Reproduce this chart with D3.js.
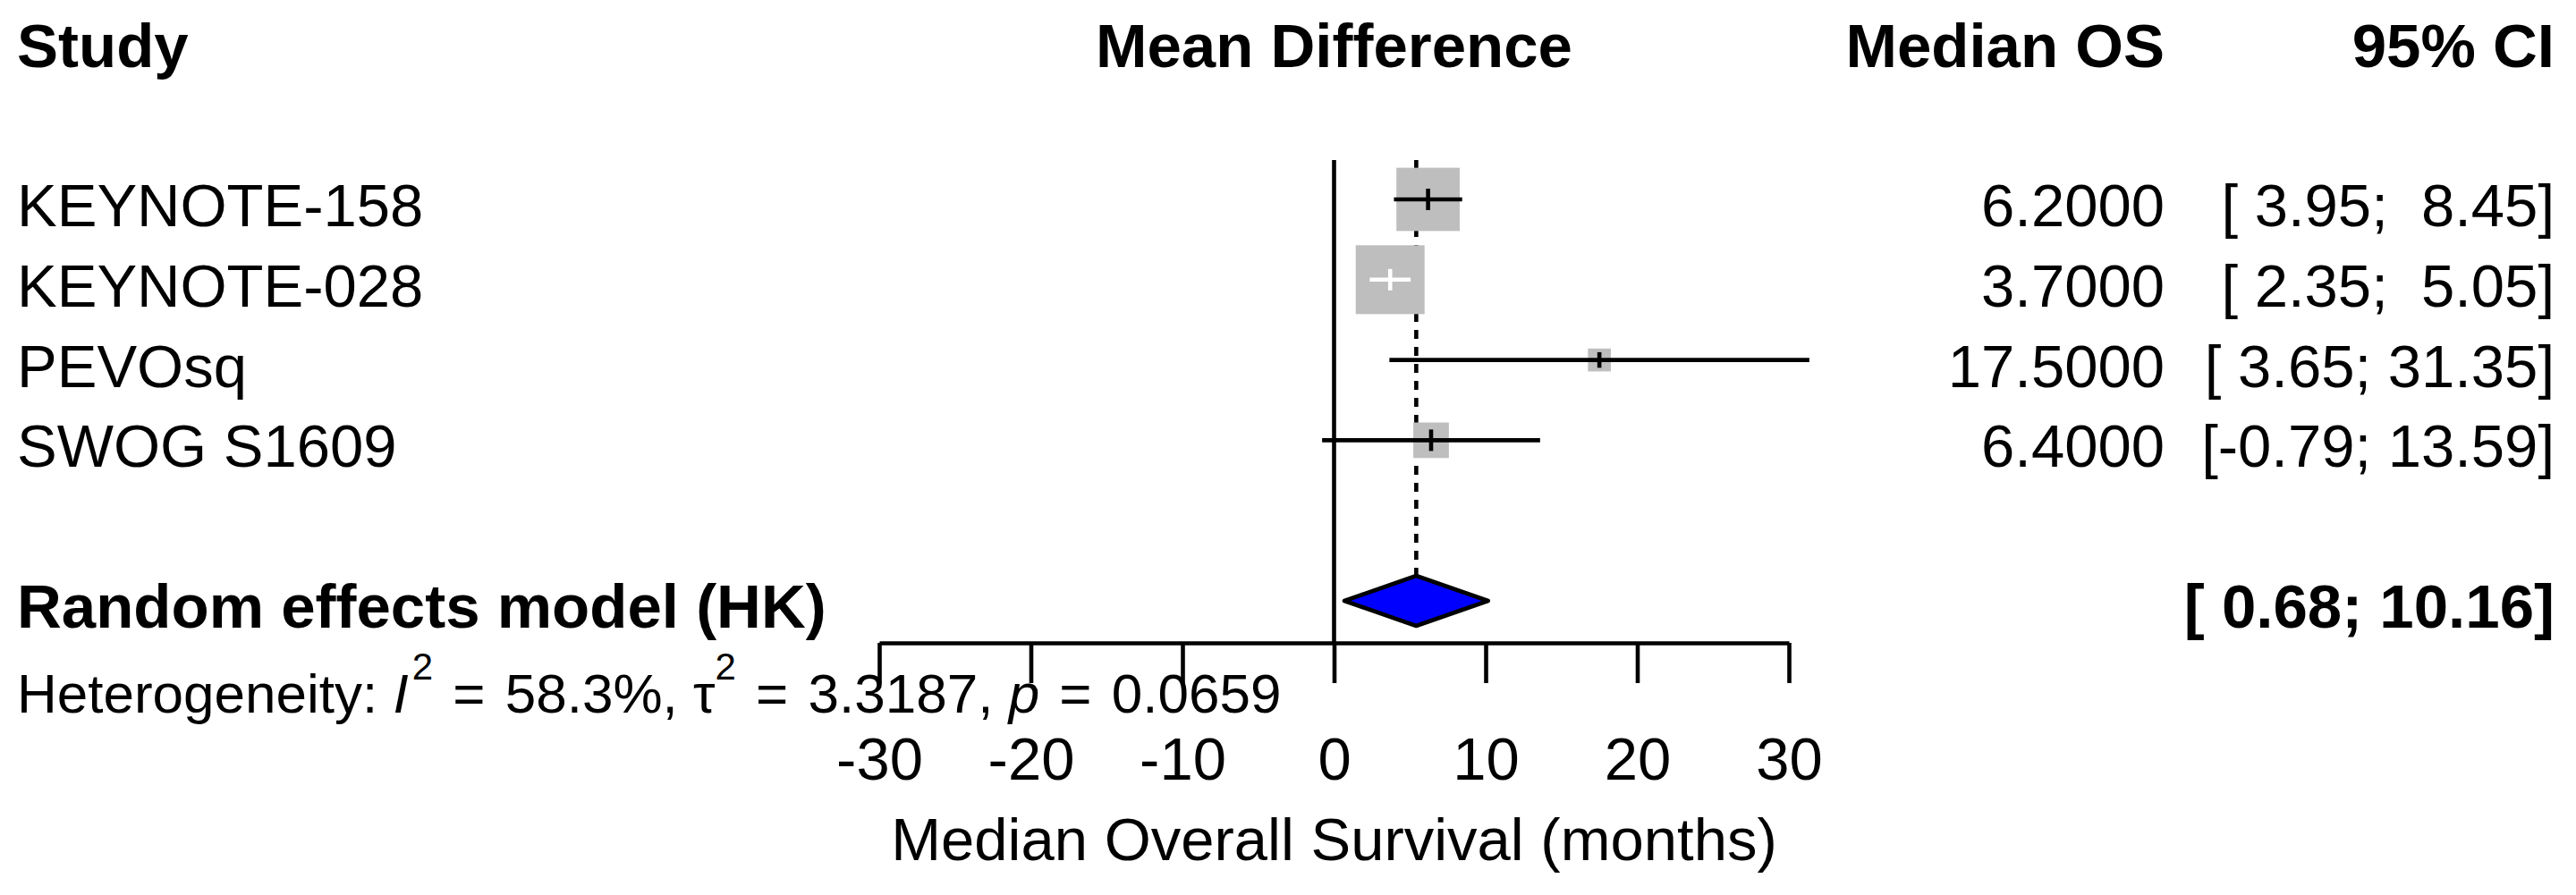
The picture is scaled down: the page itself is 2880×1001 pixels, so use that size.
<!DOCTYPE html>
<html>
<head>
<meta charset="utf-8">
<script src="https://cdn.jsdelivr.net/npm/d3@7"></script>
<style>
  html, body { margin: 0; padding: 0; background: #ffffff; }
  svg { display: block; }
  text { font-family: "Liberation Sans", Arial, Helvetica, sans-serif; fill: #000; white-space: pre; }
</style>
</head>
<body>
<svg id="chart" width="2880" height="1001"></svg>
<script>
// ---------------- data ----------------
const studies   = ["KEYNOTE-158", "KEYNOTE-028", "PEVOsq", "SWOG S1609"];
const medianOS  = [6.2, 3.7, 17.5, 6.4];
const ciLower   = [3.95, 2.35, 3.65, -0.79];
const ciUpper   = [8.45, 5.05, 31.35, 13.59];
const weights   = [38, 45, 5, 12];          // relative weights, estimated from square areas
const pooledLabel    = "Random effects model (HK)";
const pooledEstimate = 5.42;
const pooledLower    = 0.68;
const pooledUpper    = 10.16;
const xTicks    = [-30, -20, -10, 0, 10, 20, 30];
const headers   = ["Study", "Mean Difference", "Median OS", "95% CI"];
const axisTitle = "Median Overall Survival (months)";
const hetI2   = "58.3%";
const hetTau2 = "3.3187";
const hetP    = "0.0659";

// ---------------- layout ----------------
const svg = d3.select("#chart");
svg.append("rect").attr("width", 2880).attr("height", 1001).attr("fill", "#fff");

const x = d3.scaleLinear().domain([-30, 30]).range([983, 2000]);
const y = d3.scaleLinear().domain([0, 5]).range([223, 672]);   // row index -> centre
const boxSize = d3.scaleSqrt().domain([0, 45]).range([0, 77]);

const FS = 67, FSB = 69, FSH = 62;
const colStudy = 19, colEst = 2420, colCI = 2856;
const headerBase = 75, textOff = 30;
const axisY = 719, lineTop = 179;
const LW = 4.6;

const fmtCI = (lo, hi) => "[" + lo.toFixed(2).padStart(5, " ") + "; " + hi.toFixed(2).padStart(5, " ") + "]";

// headers
const hdr = svg.append("g").attr("font-weight", "bold").attr("font-size", FSB);
hdr.append("text").attr("x", colStudy).attr("y", headerBase).text(headers[0]);
hdr.append("text").attr("x", x(0)).attr("y", headerBase).attr("text-anchor", "middle").text(headers[1]);
hdr.append("text").attr("x", colEst).attr("y", headerBase).attr("text-anchor", "end").text(headers[2]);
hdr.append("text").attr("x", colCI).attr("y", headerBase).attr("text-anchor", "end").text(headers[3]);

// reference (zero) line
svg.append("line")
  .attr("x1", x(0)).attr("x2", x(0))
  .attr("y1", lineTop).attr("y2", axisY)
  .attr("stroke", "#000").attr("stroke-width", LW);

// pooled estimate dashed line
const diamondHalf = 28;
svg.append("line")
  .attr("x1", x(pooledEstimate)).attr("x2", x(pooledEstimate))
  .attr("y1", lineTop).attr("y2", y(5) - diamondHalf)
  .attr("stroke", "#000").attr("stroke-width", LW)
  .attr("stroke-dasharray", "10,9");

// study rows
const rows = studies.map((s, i) => ({
  name: s, est: medianOS[i], lo: ciLower[i], hi: ciUpper[i], w: weights[i], i
}));

const rowG = svg.append("g").selectAll("g").data(rows).join("g");

rowG.append("text")
  .attr("x", colStudy).attr("y", d => y(d.i) + textOff)
  .attr("font-size", FS).text(d => d.name);

rowG.append("rect")
  .attr("x", d => x(d.est) - boxSize(d.w) / 2)
  .attr("y", d => y(d.i) - boxSize(d.w) / 2)
  .attr("width", d => boxSize(d.w))
  .attr("height", d => boxSize(d.w))
  .attr("fill", "#BEBEBE");

const inside = d => x(d.lo) >= x(d.est) - boxSize(d.w) / 2 && x(d.hi) <= x(d.est) + boxSize(d.w) / 2;

rowG.append("line")
  .attr("x1", d => x(d.lo)).attr("x2", d => x(d.hi))
  .attr("y1", d => y(d.i)).attr("y2", d => y(d.i))
  .attr("stroke", d => inside(d) ? "#fff" : "#000")
  .attr("stroke-width", LW);

rowG.append("line")
  .attr("x1", d => x(d.est)).attr("x2", d => x(d.est))
  .attr("y1", d => y(d.i) - Math.min(12, boxSize(d.w) * 0.34))
  .attr("y2", d => y(d.i) + Math.min(12, boxSize(d.w) * 0.34))
  .attr("stroke", d => inside(d) ? "#fff" : "#000")
  .attr("stroke-width", LW);

rowG.append("text")
  .attr("x", colEst).attr("y", d => y(d.i) + textOff)
  .attr("text-anchor", "end").attr("font-size", FS)
  .text(d => d.est.toFixed(4));

rowG.append("text")
  .attr("x", colCI).attr("y", d => y(d.i) + textOff)
  .attr("text-anchor", "end").attr("font-size", FS)
  .text(d => fmtCI(d.lo, d.hi));

// pooled row
const py = y(5);
svg.append("text")
  .attr("x", colStudy).attr("y", py + textOff)
  .attr("font-size", FSB).attr("font-weight", "bold")
  .text(pooledLabel);

svg.append("path")
  .attr("d", d3.line()([
    [x(pooledLower), py],
    [x(pooledEstimate), py - diamondHalf],
    [x(pooledUpper), py],
    [x(pooledEstimate), py + diamondHalf]
  ]) + "Z")
  .attr("fill", "#0000FF")
  .attr("stroke", "#000")
  .attr("stroke-width", LW)
  .attr("stroke-linejoin", "round");

svg.append("text")
  .attr("x", colCI).attr("y", py + textOff)
  .attr("text-anchor", "end").attr("font-size", FSB).attr("font-weight", "bold")
  .text(fmtCI(pooledLower, pooledUpper));

// heterogeneity line (plotmath-like spacing around "=")
const SUP = 37;
const het = svg.append("text").attr("x", colStudy).attr("y", 797).attr("font-size", FSH);
const eq = (val, after, dy) => {
  het.append("tspan").attr("dy", dy).text(" ");
  het.append("tspan").attr("dx", 5).text("=");
  het.append("tspan").attr("dx", 5).text(" " + val + after);
};
het.append("tspan").text("Heterogeneity: ");
het.append("tspan").attr("font-style", "italic").text("I");
het.append("tspan").attr("dy", -SUP).attr("dx", 4).attr("font-size", 42).text("2");
eq(hetI2, ", ", SUP);
het.append("tspan").text("\u03C4");
het.append("tspan").attr("dy", -SUP).attr("font-size", 42).text("2");
eq(hetTau2, ", ", SUP);
het.append("tspan").attr("font-style", "italic").text("p");
eq(hetP, "", 0);

// x axis
const axisG = svg.append("g")
  .attr("transform", `translate(0,${axisY})`)
  .call(d3.axisBottom(x).tickValues(xTicks).tickSize(45).tickSizeOuter(0).tickPadding(60)
        .tickFormat(d3.format("d")));
axisG.select(".domain").attr("stroke", "#000").attr("stroke-width", LW);
axisG.selectAll(".tick line").attr("stroke", "#000").attr("stroke-width", LW);
axisG.selectAll(".tick text")
  .attr("font-size", FS)
  .attr("font-family", "'Liberation Sans', Arial, sans-serif")
  .attr("fill", "#000")
  .text(d => d < 0 ? "-" + Math.abs(d) : String(d));
axisG.attr("font-family", null).attr("font-size", null);

svg.append("text")
  .attr("x", x(0)).attr("y", 962)
  .attr("text-anchor", "middle").attr("font-size", FS)
  .text(axisTitle);
</script>
</body>
</html>
